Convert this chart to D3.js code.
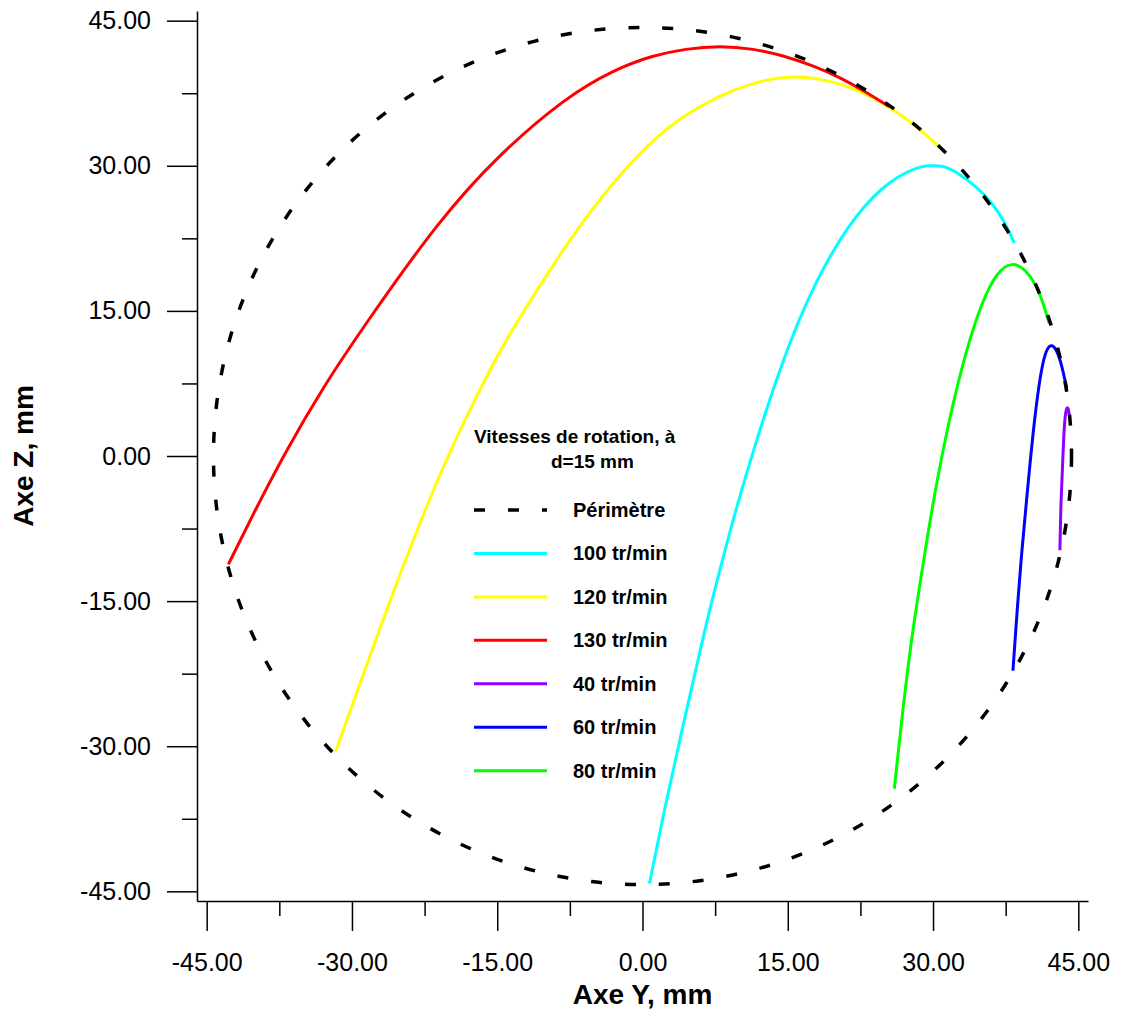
<!DOCTYPE html>
<html>
<head>
<meta charset="utf-8">
<script src="https://cdn.jsdelivr.net/npm/d3@7"></script>
<style>
  body { margin: 0; background: #fff; }
  svg { display: block; font-family: Arial, "Liberation Sans", sans-serif; }
</style>
</head>
<body>
<div id="chart"></div>
<script>
// data, [Y, Z] in mm
var perimeterRadius = 44.3;

var rpm40 = [[43.1, -9.75], [43.2, -4.9], [43.3, -2.9], [43.5, 2.3], [43.65, 4.4], [43.86, 5.2], [44.0, 4.7], [44.1, 4.0]];
var rpm60 = [[38.25, -22.2], [38.75, -15.0], [39.15, -10.0], [39.65, -4.6], [40.3, 2.3], [41.0, 8.0], [41.6, 10.9], [42.2, 11.6], [42.7, 11.1], [43.2, 9.8], [43.8, 7.0]];
var rpm80 = [[26.0, -34.4], [26.9, -26.0], [27.75, -19.1], [28.4, -14.8], [30.0, -4.6], [31.7, 4.0], [33.4, 10.9], [35.1, 16.1], [36.6, 19.0], [38.1, 20.1], [39.6, 19.3], [41.0, 17.1], [42.0, 13.7]];
var rpm100 = [[0.72, -44.2], [2.45, -35.6], [4.16, -28.0], [5.9, -20.3], [7.1, -15.2], [8.6, -9.4], [10.0, -4.3], [11.5, 0.7], [13.0, 5.45], [14.5, 9.8], [16.2, 14.2], [17.9, 17.95], [19.6, 21.1], [21.3, 23.75], [23.0, 25.95], [24.7, 27.65], [26.4, 28.9], [28.1, 29.75], [29.5, 30.05], [30.7, 30.0], [31.7, 29.75], [32.8, 29.1], [34.5, 27.8], [36.0, 26.3], [37.3, 24.4], [38.4, 22.0]];
var rpm120 = [[-31.7, -30.6], [-26.8, -16.8], [-22.0, -4.3], [-18.6, 3.3], [-15.0, 10.4], [-12.9, 14.0], [-7.9, 21.85], [-4.4, 26.6], [-1.0, 30.6], [2.5, 33.95], [5.9, 36.2], [9.4, 37.9], [12.8, 38.95], [15.5, 39.25], [18.0, 39.05], [20.5, 38.45], [23.1, 37.45], [25.5, 36.1], [28.2, 34.2], [30.7, 31.9]];
var rpm130 = [[-42.76, -11.2], [-40.2, -6.0], [-37.0, 0.2], [-33.0, 7.1], [-28.65, 13.6], [-21.0, 24.4], [-14.8, 31.2], [-7.9, 37.1], [-3.0, 39.9], [1.0, 41.4], [4.5, 42.1], [7.95, 42.4], [11.5, 42.1], [14.5, 41.4], [17.5, 40.4], [20.5, 39.1], [23.1, 37.6], [25.5, 36.1]];

var legendTitle = ["Vitesses de rotation, à", "d=15 mm"];
var seriesNames = ["Périmètre", "100 tr/min", "120 tr/min", "130 tr/min", "40 tr/min", "60 tr/min", "80 tr/min"];
var seriesColors = ["#000000", "#00ffff", "#ffff00", "#ff0000", "#9000ff", "#0000ff", "#00ff00"];
var curves = [null, rpm100, rpm120, rpm130, rpm40, rpm60, rpm80];

var majorTicks = [-45, -30, -15, 0, 15, 30, 45];
var minorTicks = [-37.5, -22.5, -7.5, 7.5, 22.5, 37.5];

var W = 1122, H = 1010;
var DASH = "11,23";

var svg = d3.select("#chart").append("svg")
    .attr("width", W)
    .attr("height", H);

var x = d3.scaleLinear().domain([-46, 46]).range([197, 1088]);
var y = d3.scaleLinear().domain([-46, 46]).range([901, 11]);

var fmt = function(d) { return d.toFixed(2); };

// axes
var gx = svg.append("g").attr("transform", "translate(0," + y(-46) + ")");
gx.call(d3.axisBottom(x).tickValues(majorTicks).tickSize(30).tickSizeOuter(0).tickPadding(22).tickFormat(fmt));
gx.append("g").call(d3.axisBottom(x).tickValues(minorTicks).tickSize(15).tickFormat(""))
  .select(".domain").remove();

var gy = svg.append("g").attr("transform", "translate(" + x(-46) + ",0)");
gy.call(d3.axisLeft(y).tickValues(majorTicks).tickSize(30).tickSizeOuter(0).tickPadding(16).tickFormat(fmt));
gy.append("g").call(d3.axisLeft(y).tickValues(minorTicks).tickSize(15).tickFormat(""))
  .select(".domain").remove();

svg.selectAll(".domain, .tick line").attr("stroke", "#000").attr("stroke-width", 1.5);
svg.selectAll(".tick text").attr("font-size", 25).attr("fill", "#000")
  .attr("font-family", "Arial, 'Liberation Sans', sans-serif");

svg.append("text")
    .attr("x", x(0)).attr("y", 1004)
    .attr("text-anchor", "middle")
    .attr("font-size", 28).attr("font-weight", "bold")
    .text("Axe Y, mm");

svg.append("text")
    .attr("transform", "translate(33," + y(0) + ") rotate(-90)")
    .attr("text-anchor", "middle")
    .attr("font-size", 28).attr("font-weight", "bold")
    .text("Axe Z, mm");

// trajectories
var line = d3.line().x(function(d) { return x(d[0]); }).y(function(d) { return y(d[1]); }).curve(d3.curveBasis);

curves.forEach(function(pts, i) {
  if (!pts) return;
  svg.append("path")
      .datum(pts)
      .attr("d", line)
      .attr("fill", "none")
      .attr("stroke", seriesColors[i])
      .attr("stroke-width", 3);
});

// perimeter on top
svg.append("ellipse")
    .attr("cx", x(0)).attr("cy", y(0))
    .attr("rx", x(perimeterRadius) - x(0))
    .attr("ry", y(0) - y(perimeterRadius))
    .attr("fill", "none")
    .attr("stroke", "#000")
    .attr("stroke-width", 3.5)
    .attr("stroke-dasharray", DASH);

// legend
var lg = svg.append("g");
lg.append("text").attr("x", 474).attr("y", 443)
    .attr("font-size", 19).attr("font-weight", "bold").text(legendTitle[0]);
lg.append("text").attr("x", 551).attr("y", 468)
    .attr("font-size", 19).attr("font-weight", "bold").text(legendTitle[1]);

var rows = lg.selectAll("g.row").data(seriesNames).enter().append("g")
    .attr("class", "row")
    .attr("transform", function(d, i) { return "translate(474," + (510 + i * 43.45) + ")"; });

rows.append("line")
    .attr("x1", 0).attr("x2", 73)
    .attr("stroke", function(d, i) { return seriesColors[i]; })
    .attr("stroke-width", function(d, i) { return i === 0 ? 3.5 : 3; })
    .attr("stroke-dasharray", function(d, i) { return i === 0 ? DASH : null; });

rows.append("text")
    .attr("x", 99).attr("y", 7)
    .attr("font-size", 20).attr("font-weight", "bold")
    .text(function(d) { return d; });
</script>
</body>
</html>
